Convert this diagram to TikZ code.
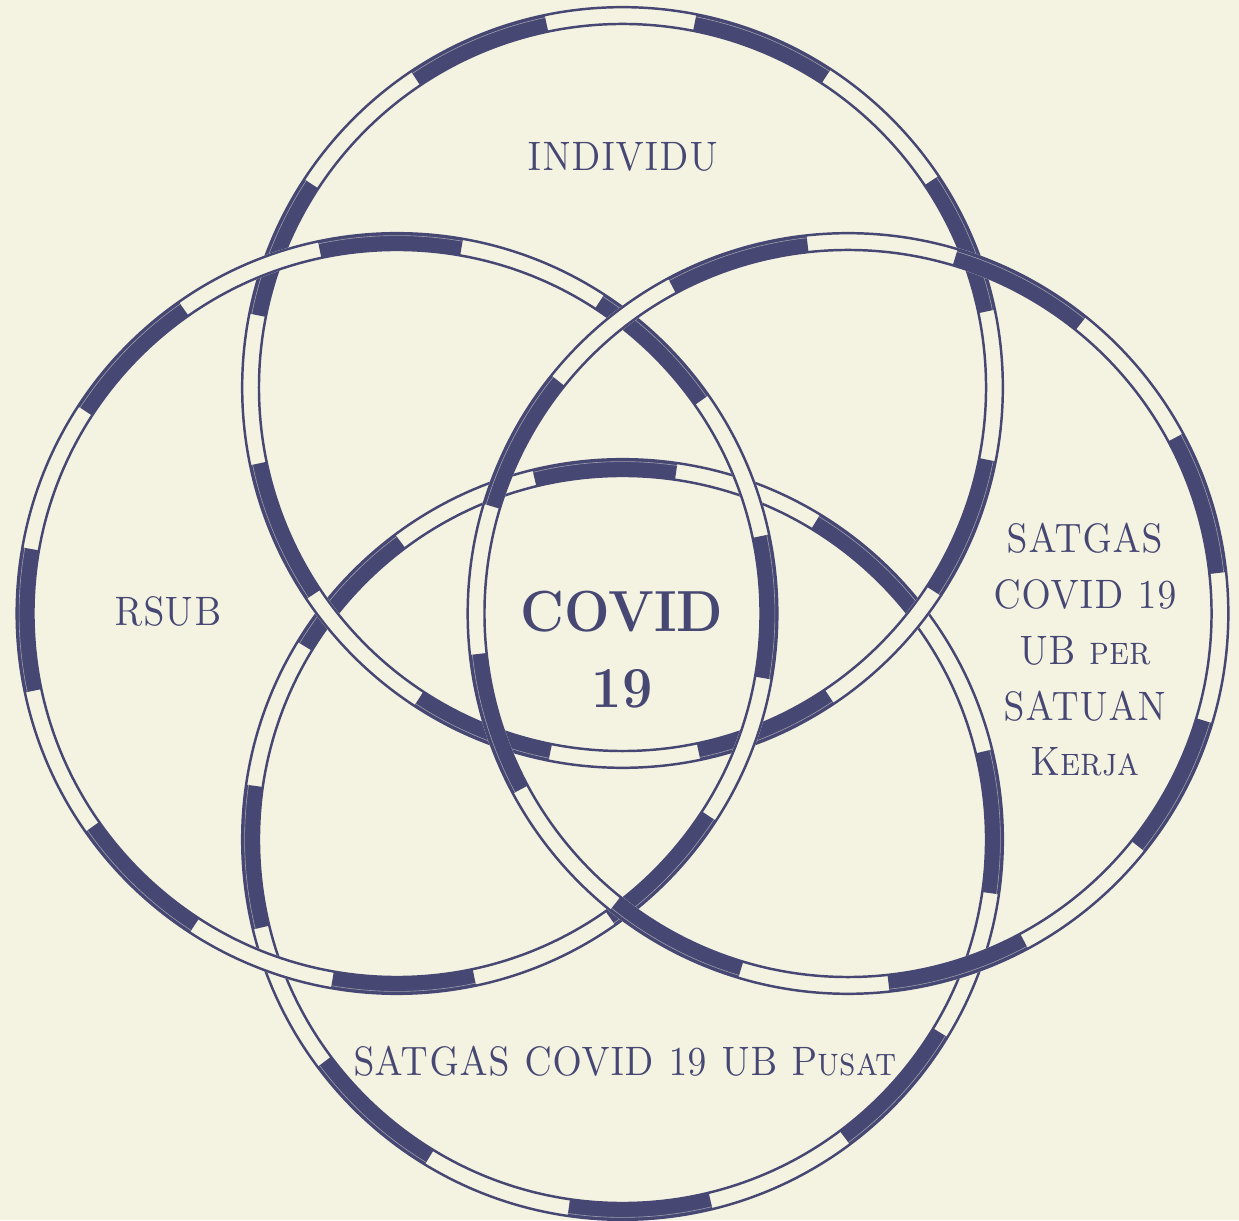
\documentclass[tikz,border=0pt]{standalone}
\usepackage{fontspec}
\usepackage{graphicx}
\definecolor{cream}{RGB}{244,243,226}
\definecolor{navy}{RGB}{70,71,115}
\tikzset{
 bandbg/.style={draw=cream, line width=11pt},
 seg/.style={draw=navy, line width=9.6pt},
 sheen/.style={draw=cream!50!navy, line width=0.35pt},
 edge/.style={draw=navy, line width=1.4pt},
 lbl/.style={text=navy, font=\fontsize{23.4pt}{31.75pt}\selectfont\scshape, align=center, inner sep=0pt},
 big/.style={text=navy, font=\fontsize{33pt}{43.6pt}\selectfont\bfseries, align=center, inner sep=0pt}
}
\newcommand\nx[1]{\scalebox{0.87}[1]{#1}}
\newcommand\bx[1]{\scalebox{0.93}[1]{#1}}
\newcommand\vring[2]{%
  \draw[bandbg] (#1) circle[radius=7.44cm];
  \foreach \s in {0,45,...,315}{%
    \draw[seg] ([shift={(\s+#2:7.44cm)}]#1) arc[start angle=\s+#2, delta angle=22, radius=7.44cm];
    \draw[sheen] ([shift={(\s+#2:7.56cm)}]#1) arc[start angle=\s+#2, delta angle=22, radius=7.56cm];
  }
  \draw[edge] (#1) circle[radius=7.608cm];
  \draw[edge] (#1) circle[radius=7.272cm];
}
\begin{document}
\begin{tikzpicture}[x=0.02cm,y=0.02cm]
\fill[cream] (0,0) rectangle (1239,1220);
\useasboundingbox (0,0) rectangle (1239,1220);
\coordinate (T) at (622.5,832.5);
\coordinate (B) at (622.5,380.5);
\coordinate (L) at (397,606.5);
\coordinate (R) at (848,606.5);
\vring{B}{36.7}
\vring{T}{11.8}
\vring{L}{350}
\vring{R}{6.25}
\node[lbl] (indiv) at (623,1063) {\nx{INDIVIDU}};
\node[lbl] (rsub) at (168,609) {\nx{RSUB}};
\node[lbl] (satker) at (1085,570) {\nx{SATGAS}\\\nx{COVID 19}\\\nx{UB per}\\\nx{SATUAN}\\\nx{Kerja}};
\node[lbl] (pusat) at (625,159) {\nx{SATGAS COVID 19 UB Pusat}};
\node[big] (covid) at (622,570.5) {\bx{COVID}\\\bx{19}};
\end{tikzpicture}
\end{document}
